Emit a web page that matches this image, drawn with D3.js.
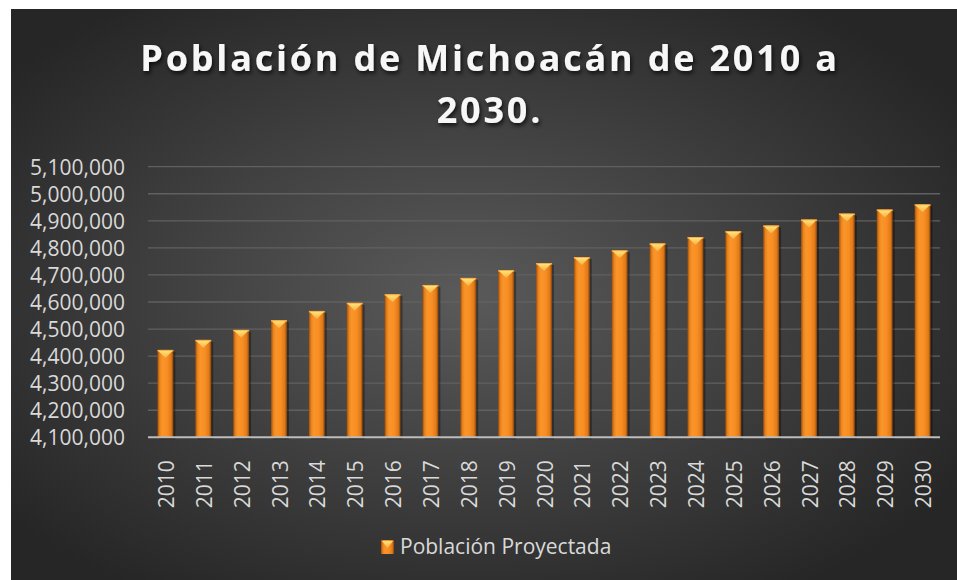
<!DOCTYPE html>
<html>
<head>
<meta charset="utf-8" />
<title>Población de Michoacán</title>
<script src="https://cdn.jsdelivr.net/npm/d3@7"></script>
<style>
  body { margin: 0; background: #fff; }
  text { font-family: "Open Sans", sans-serif; }
</style>
</head>
<body>
<div id="chart"></div>
<script>
// data
var years = ["2010", "2011", "2012", "2013", "2014", "2015", "2016", "2017", "2018", "2019", "2020",
             "2021", "2022", "2023", "2024", "2025", "2026", "2027", "2028", "2029", "2030"];
var poblacion = [4423000, 4460000, 4497000, 4533000, 4567000, 4597000, 4629000, 4663000, 4689000, 4718000, 4744000,
                 4766000, 4791000, 4817000, 4840000, 4862000, 4883000, 4905000, 4927000, 4942000, 4961000];
var yTicks = [4100000, 4200000, 4300000, 4400000, 4500000, 4600000, 4700000, 4800000, 4900000, 5000000, 5100000];
var titleLines = ["Población de Michoacán de 2010 a", "2030."];
var seriesName = "Población Proyectada";

var width = 957, height = 580;

var svg = d3.select("#chart").append("svg").attr("width", width).attr("height", height);
var defs = svg.append("defs");

// background panel
var bg = defs.append("radialGradient").attr("id", "bg").attr("cx", "48%").attr("cy", "50%").attr("r", "62%");
bg.append("stop").attr("offset", "0%").attr("stop-color", "#5a5a5a");
bg.append("stop").attr("offset", "100%").attr("stop-color", "#262626");
svg.append("rect").attr("x", 11).attr("y", 9).attr("width", width - 11).attr("height", height - 9).attr("fill", "url(#bg)");

// bar fill
var barGrad = defs.append("linearGradient").attr("id", "bar").attr("x1", "0").attr("x2", "1").attr("y1", "0").attr("y2", "0");
[["0%", "#9c4e0c"], ["14%", "#e8821c"], ["30%", "#fa952a"], ["60%", "#f88e24"], ["86%", "#e07a18"], ["100%", "#8a440a"]]
  .forEach(function(s) { barGrad.append("stop").attr("offset", s[0]).attr("stop-color", s[1]); });
var capGrad = defs.append("linearGradient").attr("id", "cap").attr("x1", "0").attr("x2", "0").attr("y1", "0").attr("y2", "1");
capGrad.append("stop").attr("offset", "0%").attr("stop-color", "#ffe27a");
capGrad.append("stop").attr("offset", "100%").attr("stop-color", "#fbb040");

var shadow = defs.append("filter").attr("id", "tshadow").attr("x", "-10%").attr("y", "-30%").attr("width", "120%").attr("height", "160%");
shadow.append("feDropShadow").attr("dx", 1.5).attr("dy", 2.5).attr("stdDeviation", 2).attr("flood-color", "#000").attr("flood-opacity", 0.75);

// scales
var x = d3.scaleBand().domain(years).range([148, 940]).paddingInner(0.58).paddingOuter(0.25);
var y = d3.scaleLinear().domain([4100000, 5100000]).range([437.3, 166.7]);

// gridlines
svg.append("g").selectAll("line").data(yTicks.slice(1)).enter().append("line")
  .attr("x1", 148).attr("x2", 940)
  .attr("y1", function(d) { return y(d); }).attr("y2", function(d) { return y(d); })
  .attr("stroke", "#606060").attr("stroke-width", 1.3);

// y axis labels
var yAxis = d3.axisLeft(y).tickValues(yTicks).tickFormat(d3.format(",")).tickSize(0).tickPadding(0);
var yg = svg.append("g").attr("transform", "translate(125,0)").call(yAxis);
yg.select(".domain").remove();
yg.selectAll("text").attr("fill", "#d9d9d9").style("font-size", "21px").attr("dy", "0.36em");

// bars
var bars = svg.append("g").selectAll("g").data(poblacion).enter().append("g");
bars.append("rect")
  .attr("x", function(d, i) { return x(years[i]) + 2; })
  .attr("y", function(d) { return y(d) + 2; })
  .attr("width", x.bandwidth())
  .attr("height", function(d) { return y(4100000) - y(d); })
  .attr("fill", "#000").attr("opacity", 0.35);
bars.append("rect")
  .attr("x", function(d, i) { return x(years[i]); })
  .attr("y", function(d) { return y(d); })
  .attr("width", x.bandwidth())
  .attr("height", function(d) { return y(4100000) - y(d); })
  .attr("fill", "url(#bar)");
bars.append("rect")
  .attr("x", function(d, i) { return x(years[i]); })
  .attr("y", function(d) { return y(d); })
  .attr("width", x.bandwidth())
  .attr("height", 1.5)
  .attr("fill", "#fcb048");
bars.append("path")
  .attr("d", function(d, i) {
    var x0 = x(years[i]), w = x.bandwidth(), t = y(d);
    return "M" + (x0 + 1) + "," + (t + 1) + "L" + (x0 + w - 1) + "," + (t + 1) + "L" + (x0 + w / 2) + "," + (t + 8) + "Z";
  })
  .attr("fill", "url(#cap)");

// x axis line
svg.append("line").attr("x1", 148).attr("x2", 940).attr("y1", y(4100000)).attr("y2", y(4100000))
  .attr("stroke", "#bdbdbd").attr("stroke-width", 2);

// x labels
var xAxis = d3.axisBottom(x).tickSize(0).tickPadding(0);
var xg = svg.append("g").attr("transform", "translate(0," + y(4100000) + ")").call(xAxis);
xg.select(".domain").remove();
xg.selectAll("text")
  .attr("fill", "#d9d9d9").style("font-size", "21px")
  .attr("text-anchor", "end")
  .attr("transform", "rotate(-90)")
  .attr("x", -23).attr("y", 1).attr("dy", "0.36em");

// title
svg.append("g").selectAll("text").data(titleLines).enter().append("text")
  .attr("x", 490).attr("y", function(d, i) { return 71 + i * 52; })
  .attr("text-anchor", "middle")
  .attr("fill", "#f7f7f7").style("font-size", "36px").style("font-weight", "bold")
  .style("letter-spacing", "2.8px")
  .attr("filter", "url(#tshadow)")
  .text(function(d) { return d; });

// legend
var lg = svg.append("g");
lg.append("rect").attr("x", 381).attr("y", 540).attr("width", 13).attr("height", 14).attr("fill", "url(#bar)");
lg.append("path").attr("d", "M382,541L393,541L387.5,548Z").attr("fill", "url(#cap)");
lg.append("text").attr("x", 400).attr("y", 554).attr("fill", "#d9d9d9").style("font-size", "21px").text(seriesName);
</script>
</body>
</html>
